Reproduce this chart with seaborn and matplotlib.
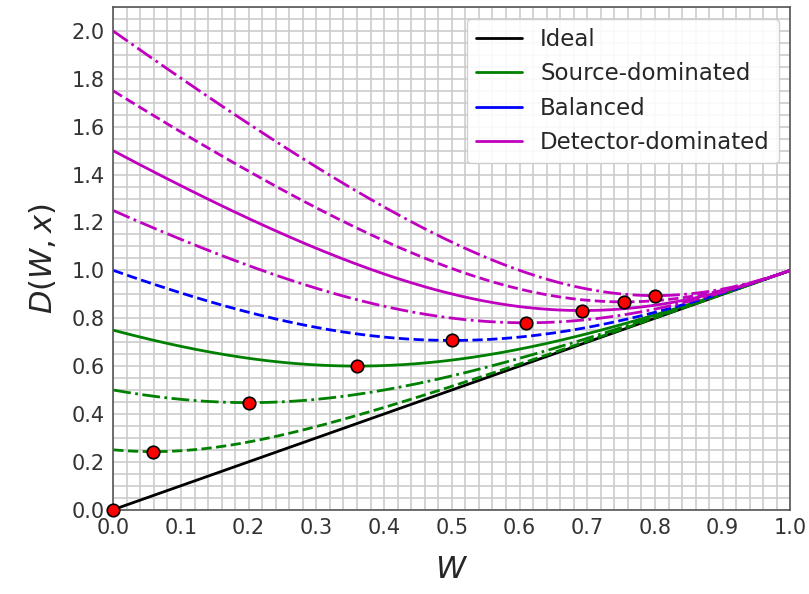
import numpy as np
import pandas as pd
import matplotlib
matplotlib.use("Agg")
import matplotlib.pyplot as plt
from matplotlib.ticker import MultipleLocator
from matplotlib.lines import Line2D
import seaborn as sns

# Curve parameters (value of D at W=0) and styles
x_values = [0.25, 0.5, 0.75, 1.0, 1.25, 1.5, 1.75, 2.0]
groups = ["Source-dominated", "Source-dominated", "Source-dominated", "Balanced",
          "Detector-dominated", "Detector-dominated", "Detector-dominated", "Detector-dominated"]
dash_styles = ["--", "-.", "-", "--", "-.", "-", "--", "-."]
group_colors = {"Ideal": "#000000", "Source-dominated": "#008000",
                "Balanced": "#0000ff", "Detector-dominated": "#bf00bf"}
legend_labels = ["Ideal", "Source-dominated", "Balanced", "Detector-dominated"]

W = np.linspace(0, 1, 400)

sns.set_theme(style="whitegrid")
fig, ax = plt.subplots(figsize=(8.09, 5.94), dpi=100)

# Ideal line
sns.lineplot(x=W, y=W, ax=ax, color="#000000", lw=2)
ax.plot([0], [0], "o", color="red", mec="black", mew=1.2, ms=9, zorder=5, clip_on=False)

for xv, g, ls in zip(x_values, groups, dash_styles):
    D = np.sqrt(W**2 + xv**2 * (1 - W)**2)
    sns.lineplot(x=W, y=D, ax=ax, color=group_colors[g], lw=2, linestyle=ls)
    wmin = xv**2 / (1 + xv**2)
    dmin = np.sqrt(wmin**2 + xv**2 * (1 - wmin)**2)
    ax.plot([wmin], [dmin], "o", color="red", mec="black", mew=1.2, ms=9, zorder=5)

ax.set_xlim(0, 1)
ax.set_ylim(0, 2.1)
ax.xaxis.set_major_locator(MultipleLocator(0.1))
ax.yaxis.set_major_locator(MultipleLocator(0.2))
ax.xaxis.set_minor_locator(MultipleLocator(0.02))
ax.yaxis.set_minor_locator(MultipleLocator(0.05))
ax.grid(True, which="both", color="#cccccc", lw=1.2)
ax.set_axisbelow(True)
ax.tick_params(axis="both", which="major", labelsize=15, colors="#333333", length=0, pad=6)
for s in ax.spines.values():
    s.set_color("#555555")
    s.set_linewidth(1.2)

ax.set_xlabel(r"$W$", fontsize=22, labelpad=12)
ax.set_ylabel(r"$D(W, x)$", fontsize=22, labelpad=10)

handles = [Line2D([0], [0], color=group_colors[l], lw=2) for l in legend_labels]
ax.legend(handles, legend_labels, loc="upper right", fontsize=16.5, framealpha=0.9)

fig.subplots_adjust(left=0.14, right=0.977, top=0.988, bottom=0.142)
fig.savefig("out.png", dpi=100)
